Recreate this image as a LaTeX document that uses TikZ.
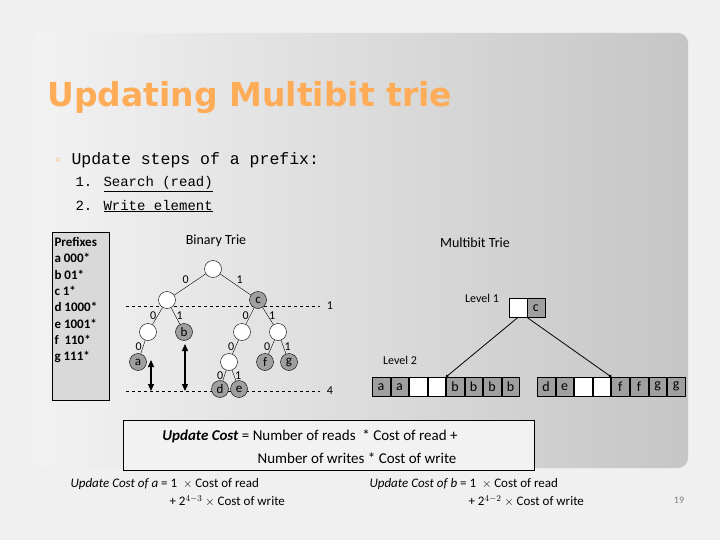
\documentclass[tikz,border=0pt]{standalone}
\usepackage{fontspec}
\setmainfont{Carlito}
\newfontfamily\monof{Liberation Mono}
\newfontfamily\titf{DejaVu Sans}
\usetikzlibrary{arrows.meta}
\begin{document}
\begin{tikzpicture}[x=1pt,y=-1pt,
  tn/.style={circle,draw,fill=white,minimum size=17pt,inner sep=0pt,font=\fontsize{13}{13}\selectfont},
  gn/.style={tn,fill=gray!75},
  bx/.style={draw,minimum width=17.5pt,minimum height=19pt,inner sep=0pt,anchor=north west,font=\fontsize{14}{14}\selectfont},
  gb/.style={bx,fill=gray!75},
  wb/.style={bx,fill=white},
  el/.style={font=\fontsize{12}{12}\selectfont,inner sep=1pt},
  lbl/.style={font=\fontsize{12}{12}\selectfont},
  dar/.style={very thick,{Triangle[length=7pt,width=6pt]}-{Triangle[length=7pt,width=6pt]}}]
\useasboundingbox (0,0) rectangle (720,540);
\fill[gray!12] (0,0) rectangle (720,540);
\shade[left color=gray!10,right color=gray!45,rounded corners=10pt] (33,33) rectangle (688,468);
\node[anchor=west,text=orange!65!white,font=\fontsize{33}{33}\selectfont\bfseries\titf] (title) at (44,98) {Updating Multibit trie};
\node[anchor=west,text=orange!70,font=\fontsize{10}{10}\selectfont] (bm) at (52,160) {$\circ$};
\node[anchor=west,font=\fontsize{16.5}{16.5}\selectfont\monof] (bul) at (68,160) {Update steps of a prefix:};
\node[anchor=west,font=\fontsize{14}{14}\selectfont\monof] (s1) at (72,184) {1. \underline{Search (read)}};
\node[anchor=west,font=\fontsize{14}{14}\selectfont\monof] (s2) at (72,206) {2. \underline{Write element}};
% prefixes
\draw[fill=gray!30] (52,232) rectangle (109,400);
\node[anchor=north west,align=left,font=\fontsize{13}{16.3}\selectfont\bfseries] (pre) at (51,234) {Prefixes\\a\ 000*\\b\ 01*\\c\ 1*\\d\ 1000*\\e\ 1001*\\f\ \ 110*\\g\ 111*};
% binary trie
\node[font=\fontsize{14}{14}\selectfont] (bt) at (216,241) {Binary Trie};
\draw[dashed] (126,306) -- (320,306);
\draw[dashed] (126,391) -- (320,391);
\node[lbl] (l1) at (330,306) {1};
\node[lbl] (l4) at (330,391) {4};
\node[tn] (r) at (213,269) {};
\node[tn] (L) at (167,300) {};
\node[gn] (c) at (258,300) {c};
\node[tn] (LL) at (148,332) {};
\node[gn] (b) at (184,332) {b};
\node[tn] (cL) at (242,332) {};
\node[tn] (cR) at (278,332) {};
\node[gn] (a) at (138,362) {a};
\node[tn] (cLL) at (229,362) {};
\node[gn] (f) at (265,362) {f};
\node[gn] (g) at (289,362) {g};
\node[gn] (d) at (220,389) {d};
\node[gn] (e) at (239,389) {e};
\draw (r)--node[el,above left]{0}(L); \draw (r)--node[el,above right]{1}(c);
\draw (L)--node[el,left]{0}(LL); \draw (L)--node[el,right]{1}(b);
\draw (c)--node[el,left]{0}(cL); \draw (c)--node[el,right]{1}(cR);
\draw (LL)--node[el,left]{0}(a);
\draw (cL)--node[el,left]{0}(cLL);
\draw (cR)--node[el,left]{0}(f); \draw (cR)--node[el,right]{1}(g);
\draw (cLL)--node[el,left]{0}(d); \draw (cLL)--node[el,right]{1}(e);
\draw[dar] (151,360) -- (151,391);
\draw[dar] (185,344) -- (185,391);
% multibit
\node[font=\fontsize{14}{14}\selectfont] (mt) at (475,243) {Multibit Trie};
\node[lbl] (lv1) at (482,298) {Level 1};
\node[lbl] (lv2) at (400,360) {Level 2};
\node[wb] (w1) at (509,298) {};
\node[gb] (cb) at (527,298) {c};
\foreach \t [count=\i from 0] in {a,a,,,b,b,b,b}{
  \ifx\t\empty \node[wb] (p\i) at (372+\i*18.5,377) {}; \else \node[gb] (p\i) at (372+\i*18.5,377) {\t}; \fi }
\foreach \t [count=\i from 0] in {d,e,,,f,f,g,g}{
  \ifx\t\empty \node[wb] (q\i) at (537+\i*18.6,377) {}; \else \node[gb] (q\i) at (537+\i*18.6,377) {\t}; \fi }
\draw[thick,-{Circle[length=3pt]}] (w1.south) -- (p4.north west);
\draw[thick,-{Circle[length=3pt]}] (cb.south west) -- (q4.north west);
% cost
\draw[fill=gray!10] (123,420) rectangle (534,470);
\node[font=\fontsize{15}{15}\selectfont] (uc1) at (310,436) {\textbf{\textit{Update Cost}} = Number of reads\ \ * Cost of read +};
\node[font=\fontsize{15}{15}\selectfont] (uc2) at (357,458) {Number of writes * Cost of write};
\node[anchor=west,font=\fontsize{13}{13}\selectfont] (ca1) at (67,484) {\textit{Update Cost of a} = 1 \ $\times$ Cost of read};
\node[anchor=west,font=\fontsize{13}{13}\selectfont] (ca2) at (166,501) {+ 2$^{4-3}$ $\times$ Cost of write};
\node[anchor=west,font=\fontsize{13}{13}\selectfont] (cb1) at (366,484) {\textit{Update Cost of b} = 1 \ $\times$ Cost of read};
\node[anchor=west,font=\fontsize{13}{13}\selectfont] (cb2) at (465,501) {+ 2$^{4-2}$ $\times$ Cost of write};
\node[text=gray,font=\fontsize{10}{10}\selectfont] (pg) at (679,500) {19};
\end{tikzpicture}
\end{document}
